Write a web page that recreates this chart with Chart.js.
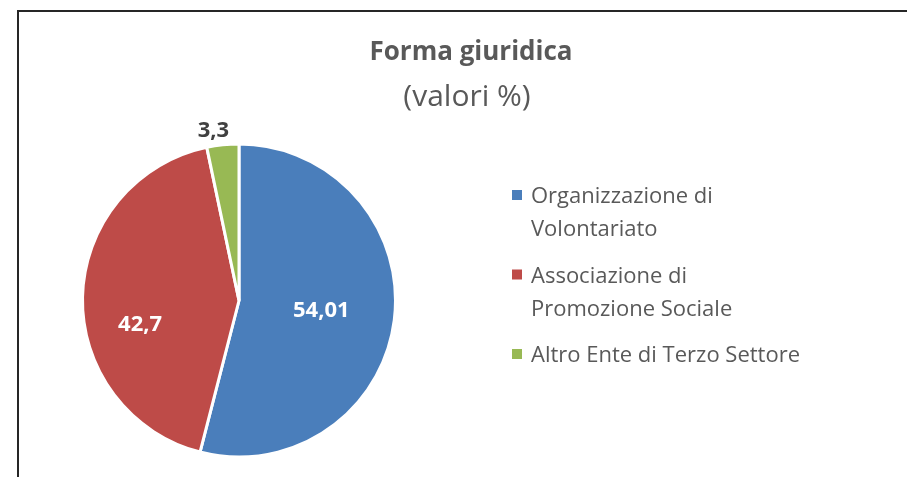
<!DOCTYPE html>
<html>
<head>
<meta charset="utf-8">
<script src="https://cdn.jsdelivr.net/npm/chart.js@4.4.1/dist/chart.umd.min.js"></script>
<style>
  html, body { margin: 0; padding: 0; background: #fff; }
  #wrap { position: relative; width: 907px; height: 477px; }
</style>
</head>
<body>
<div id="wrap"><canvas id="chart" width="907" height="477"></canvas></div>
<script>
const titleText = "Forma giuridica";
const subtitleText = "(valori %)";
const categories = [
  ["Organizzazione di", "Volontariato"],
  ["Associazione di", "Promozione Sociale"],
  ["Altro Ente di Terzo Settore"],
];
const percentages = [54.01, 42.7, 3.3];
const sliceColors = ["#4A7EBB", "#BE4B48", "#98B954"];

const FONT = "'Open Sans', Lato, sans-serif";

function fmt(v) {
  return String(v).replace(".", ",");
}

// frame, title, value labels and legend drawn on top of the pie
const extras = {
  id: "extras",
  afterDraw(chart) {
    const ctx = chart.ctx;
    ctx.save();

    // frame
    ctx.fillStyle = "#262626";
    ctx.fillRect(17, 10, 2, 467);
    ctx.fillRect(17, 10, 890, 2);

    // title
    ctx.textAlign = "center";
    ctx.textBaseline = "alphabetic";
    ctx.fillStyle = "#595959";
    ctx.font = "bold 26px " + FONT;
    ctx.fillText(titleText, 471, 60);
    ctx.font = "30px " + FONT;
    ctx.fillText(subtitleText, 467, 106);

    // value labels
    const meta = chart.getDatasetMeta(0);
    const nudges = [[0, 0], [-16, 26], [-8, 0]];
    meta.data.forEach((arc, i) => {
      const mid = (arc.startAngle + arc.endAngle) / 2;
      const outside = percentages[i] < 5;
      const dist = outside ? arc.outerRadius + 14 : arc.outerRadius * 0.53;
      const x = arc.x + Math.cos(mid) * dist + nudges[i][0];
      const y = arc.y + Math.sin(mid) * dist + nudges[i][1];
      ctx.font = "bold 22px " + FONT;
      ctx.textAlign = "center";
      ctx.textBaseline = "middle";
      ctx.fillStyle = outside ? "#404040" : "#ffffff";
      ctx.fillText(fmt(percentages[i]), x, y);
    });

    // legend
    ctx.textAlign = "left";
    ctx.textBaseline = "alphabetic";
    ctx.font = "22px " + FONT;
    let y = 203;
    categories.forEach((lines, i) => {
      ctx.fillStyle = sliceColors[i];
      ctx.fillRect(512, y - 13, 10, 10);
      ctx.fillStyle = "#595959";
      lines.forEach((line) => {
        ctx.fillText(line, 531, y);
        y += 33;
      });
      y += 13.5;
    });

    ctx.restore();
  },
};

new Chart(document.getElementById("chart"), {
  type: "pie",
  data: {
    labels: categories,
    datasets: [
      {
        data: percentages,
        backgroundColor: sliceColors,
        borderColor: "#ffffff",
        borderWidth: 3,
      },
    ],
  },
  options: {
    responsive: false,
    animation: false,
    layout: {
      padding: { left: 81, right: 510, top: 142.5, bottom: 18.5 },
    },
    plugins: {
      legend: { display: false },
      tooltip: { enabled: false },
      title: { display: false },
    },
  },
  plugins: [extras],
});
</script>
</body>
</html>
